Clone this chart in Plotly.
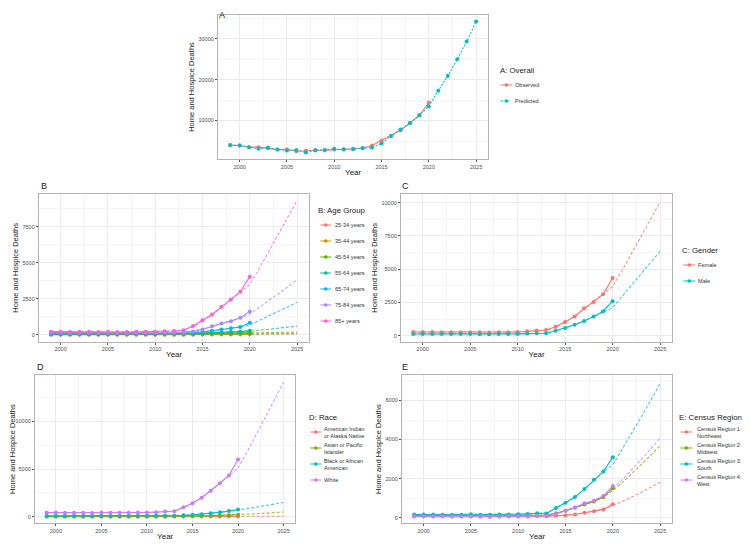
import plotly.graph_objects as go

years_obs = list(range(1999, 2021))
years_pred = list(range(1999, 2026))

# Panel A: overall
a_groups = ["Observed", "Predicted"]
a_obs = [3980, 3900, 3500, 3500, 3200, 2900, 3000, 2500, 2600, 2800, 2700, 2900, 3000, 3100,
         3300, 3900, 5100, 6200, 7600, 9300, 11300, 14400]
a_pred = [4000, 3900, 3500, 3100, 3400, 2900, 2700, 2800, 2200, 2700, 2800, 3100, 2900, 3000,
          3200, 3400, 4400, 6200, 7800, 9400, 11300, 13500, 17300, 20900, 25000, 29300, 34200]
a_colors = ["#F8766D", "#00BFC4"]

# Panel B: age group
b_groups = ["25-34 years", "35-44 years", "45-54 years", "55-64 years", "65-74 years", "75-84 years", "85+ years"]
b_obs = [
    [20, 18, 19, 18, 17, 18, 17, 16, 17, 18, 17, 18, 19, 20, 22, 25, 28, 30, 33, 35, 38, 45],
    [40, 38, 37, 36, 35, 34, 33, 32, 33, 32, 33, 34, 35, 37, 40, 45, 50, 55, 60, 65, 70, 80],
    [70, 68, 66, 65, 63, 62, 60, 60, 62, 63, 65, 66, 68, 70, 75, 85, 95, 105, 115, 125, 135, 160],
    [80, 78, 76, 75, 73, 72, 72, 70, 72, 73, 75, 77, 80, 85, 95, 110, 130, 155, 180, 205, 230, 300],
    [110, 105, 100, 98, 95, 92, 90, 88, 88, 90, 92, 95, 98, 105, 120, 160, 210, 290, 380, 460, 550, 840],
    [170, 165, 160, 158, 155, 150, 148, 145, 145, 148, 150, 152, 155, 160, 180, 250, 380, 600, 790, 960, 1190, 1635],
    [230, 220, 210, 230, 220, 210, 220, 210, 210, 220, 220, 230, 260, 280, 330, 630, 1020, 1420, 1950, 2460, 3000, 4040],
]
b_pred = [
    [20, 19, 18, 18, 17, 17, 17, 17, 17, 17, 17, 18, 19, 20, 22, 25, 27, 30, 32, 35, 38, 40, 42, 44, 46, 48, 50],
    [40, 38, 37, 36, 35, 34, 33, 33, 33, 33, 33, 34, 35, 37, 40, 45, 50, 55, 60, 65, 70, 75, 82, 89, 96, 103, 110],
    [70, 68, 66, 64, 63, 62, 61, 61, 62, 63, 65, 66, 68, 71, 76, 85, 95, 105, 115, 125, 135, 145, 156, 167, 178, 189, 200],
    [80, 78, 76, 74, 73, 72, 71, 71, 72, 73, 75, 77, 80, 86, 96, 110, 130, 155, 180, 205, 230, 260, 330, 400, 470, 540, 610],
    [108, 104, 100, 97, 94, 92, 90, 89, 89, 90, 92, 95, 100, 108, 125, 165, 220, 290, 370, 460, 560, 700, 1000, 1300, 1620, 1940, 2270],
    [165, 162, 160, 157, 154, 151, 148, 146, 146, 148, 150, 153, 157, 165, 190, 270, 400, 590, 780, 960, 1180, 1450, 1900, 2350, 2850, 3330, 3830],
    [220, 220, 220, 220, 215, 215, 215, 215, 215, 220, 225, 235, 255, 285, 340, 560, 950, 1400, 1900, 2450, 2950, 3500, 4600, 5800, 6950, 8150, 9330],
]
b_colors = ["#F8766D", "#C49A00", "#53B400", "#00C094", "#00B6EB", "#A58AFF", "#FB61D7"]

# Panel C: gender
c_groups = ["Female", "Male"]
c_obs = [
    [280, 275, 270, 255, 260, 255, 265, 260, 250, 262, 265, 275, 330, 400, 430, 680, 1030, 1435, 2065, 2540, 3120, 4330],
    [130, 128, 125, 122, 120, 120, 122, 118, 115, 125, 128, 135, 160, 180, 185, 380, 580, 830, 1110, 1435, 1840, 2590],
]
c_pred = [
    [275, 272, 268, 262, 260, 258, 258, 256, 255, 260, 265, 275, 300, 340, 400, 620, 1000, 1450, 2000, 2550, 3100, 3700, 4900, 6150, 7450, 8750, 10070],
    [128, 126, 124, 122, 121, 120, 120, 118, 117, 122, 127, 135, 150, 170, 200, 350, 560, 820, 1100, 1420, 1780, 2110, 2950, 3800, 4650, 5500, 6350],
]
c_colors = ["#F8766D", "#00BFC4"]

# Panel D: race
d_groups = ["American Indian<br>or Alaska Native", "Asian or Pacific<br>Islander", "Black or African<br>American", "White"]
d_obs = [
    [10, 10, 10, 10, 10, 10, 10, 10, 10, 10, 10, 10, 11, 12, 12, 14, 15, 17, 18, 20, 22, 28],
    [25, 25, 25, 25, 25, 25, 26, 26, 27, 28, 29, 30, 32, 35, 40, 50, 65, 85, 105, 130, 160, 210],
    [95, 95, 93, 92, 90, 90, 90, 88, 88, 90, 92, 95, 100, 105, 110, 150, 200, 260, 355, 460, 600, 745],
    [430, 430, 420, 420, 415, 400, 430, 410, 410, 425, 430, 440, 480, 540, 570, 990, 1420, 1985, 2730, 3510, 4330, 5990],
]
d_pred = [
    [10, 10, 10, 10, 10, 10, 10, 10, 10, 10, 10, 10, 11, 12, 13, 14, 15, 17, 18, 20, 22, 25, 30, 35, 40, 45, 50],
    [25, 25, 25, 25, 25, 25, 26, 26, 27, 28, 29, 30, 32, 35, 40, 50, 65, 85, 105, 130, 160, 190, 250, 310, 370, 430, 500],
    [95, 94, 93, 92, 91, 90, 89, 88, 88, 90, 92, 95, 100, 105, 115, 150, 200, 265, 350, 460, 580, 700, 850, 1000, 1170, 1330, 1490],
    [430, 428, 422, 418, 412, 408, 410, 410, 412, 420, 428, 440, 470, 520, 600, 950, 1400, 1980, 2720, 3500, 4300, 5100, 6800, 8600, 10400, 12250, 14100],
]
d_colors = ["#F8766D", "#7CAE00", "#00BFC4", "#C77CFF"]

# Panel E: census region
e_groups = ["Census Region 1:<br>Northeast", "Census Region 2:<br>Midwest", "Census Region 3:<br>South", "Census Region 4:<br>West"]
e_obs = [
    [70, 68, 66, 65, 64, 63, 65, 62, 60, 63, 65, 68, 70, 75, 80, 100, 120, 170, 260, 330, 430, 690],
    [120, 118, 115, 113, 112, 110, 115, 110, 108, 112, 115, 118, 122, 130, 140, 230, 360, 520, 680, 840, 1050, 1510],
    [170, 168, 165, 163, 160, 158, 180, 160, 155, 165, 170, 180, 200, 230, 220, 500, 770, 1060, 1470, 1940, 2365, 3100],
    [80, 78, 76, 75, 74, 72, 75, 72, 70, 72, 75, 78, 85, 95, 110, 200, 360, 530, 740, 870, 1110, 1630],
]
e_pred = [
    [70, 68, 66, 65, 64, 63, 63, 62, 61, 63, 65, 68, 70, 74, 80, 100, 125, 170, 250, 330, 440, 620, 830, 1060, 1300, 1560, 1820],
    [120, 118, 115, 113, 112, 110, 110, 109, 108, 112, 115, 118, 122, 130, 150, 230, 360, 510, 670, 840, 1050, 1400, 1800, 2250, 2700, 3190, 3690],
    [170, 168, 165, 163, 160, 158, 162, 158, 156, 165, 170, 180, 200, 225, 260, 480, 760, 1060, 1460, 1920, 2350, 2710, 3500, 4300, 5150, 6000, 6870],
    [80, 78, 76, 75, 74, 72, 72, 71, 70, 72, 75, 78, 85, 95, 120, 210, 350, 520, 720, 880, 1120, 1500, 1950, 2450, 2980, 3520, 4080],
]
e_colors = ["#F8766D", "#7CAE00", "#00BFC4", "#C77CFF"]

# page body has an 8px margin; lay out in window pixels
OFF = 8
FW, FH = 750 - OFF, 544 - OFF
FONT = "Liberation Sans, Arial, sans-serif"
DASH = "3px,2px"


def px_x(v):
    return (v - OFF) / FW


def px_y(v):
    return 1 - (v - OFF) / FH


fig = go.Figure()

# Panel A traces
fig.add_trace(go.Scatter(x=years_obs, y=a_obs, mode="lines+markers", name=a_groups[0],
                         line=dict(color=a_colors[0], width=1.1), marker=dict(size=4, color=a_colors[0]),
                         xaxis="x", yaxis="y", showlegend=False))
fig.add_trace(go.Scatter(x=years_pred, y=a_pred, mode="lines+markers", name=a_groups[1],
                         line=dict(color=a_colors[1], width=1.1, dash="2px,1.5px"),
                         marker=dict(size=4, color=a_colors[1]),
                         xaxis="x", yaxis="y", showlegend=False))


def add_group_panel(groups, obs, pred, colors, ax):
    for g, o, p, c in zip(groups, obs, pred, colors):
        fig.add_trace(go.Scatter(x=years_pred, y=p, mode="lines", name=g,
                                 showlegend=False, opacity=0.75,
                                 line=dict(color=c, width=1.1, dash=DASH),
                                 xaxis="x" + ax, yaxis="y" + ax))
        fig.add_trace(go.Scatter(x=years_obs, y=o, mode="lines+markers", name=g, showlegend=False,
                                 line=dict(color=c, width=1.1), marker=dict(size=4, color=c),
                                 xaxis="x" + ax, yaxis="y" + ax))


add_group_panel(b_groups, b_obs, b_pred, b_colors, "2")
add_group_panel(c_groups, c_obs, c_pred, c_colors, "3")
add_group_panel(d_groups, d_obs, d_pred, d_colors, "4")
add_group_panel(e_groups, e_obs, e_pred, e_colors, "5")

panels = {
    # name: (left, right, top, bottom, yrange, dtick)
    "": (215, 487, 15, 159, [600, 35800], 10000),
    "2": (35, 307, 194, 341.7, [-465, 9765], 2500),
    "3": (399, 672, 194, 341.7, [-450, 10650], 2500),
    "4": (31, 293, 375, 523.3, [-690, 14850], 5000),
    "5": (400, 672, 375, 523.3, [-280, 7300], 2000),
}

layout = dict(width=FW, height=FH, margin=dict(l=0, r=0, t=0, b=0),
              paper_bgcolor="white", plot_bgcolor="white", showlegend=False,
              font=dict(family=FONT, color="#222222"))

for k, (l, r, t, b, yr, dt) in panels.items():
    ax = dict(domain=[px_x(l), px_x(r)], range=[1997.7, 2026.3], dtick=5, tick0=2000,
              showgrid=True, gridcolor="#EBEBEB", gridwidth=1,
              minor=dict(dtick=2.5, tick0=2000, showgrid=True, gridcolor="#F5F5F5", gridwidth=0.6),
              showline=True, mirror=True, linecolor="#B3B3B3", linewidth=1,
              ticks="outside", ticklen=2, tickcolor="#555555",
              tickfont=dict(size=5.5, color="#4D4D4D"), zeroline=False,
              title=dict(text="Year", font=dict(size=8, color="#222222"), standoff=0),
              anchor="y" + k)
    ay = dict(domain=[px_y(b), px_y(t)], range=yr, dtick=dt, tick0=0, tickformat="d",
              showgrid=True, gridcolor="#EBEBEB", gridwidth=1,
              minor=dict(dtick=dt / 2, tick0=0, showgrid=True, gridcolor="#F5F5F5", gridwidth=0.6),
              showline=True, mirror=True, linecolor="#B3B3B3", linewidth=1,
              ticks="outside", ticklen=2, tickcolor="#555555",
              tickfont=dict(size=5.5, color="#4D4D4D"), zeroline=False,
              title=dict(text="Home and Hospice Deaths", font=dict(size=7.5, color="#222222"), standoff=2),
              anchor="x" + k)
    layout["xaxis" + k] = ax
    layout["yaxis" + k] = ay

# manual legends (ggplot style): title, key line with point, label
legends = [
    # title, title_x, title_y, key_x0, key_x1, text_x, item_ys, labels, colors, dashes
    ("A: Overall", 497, 70, 499, 511, 512, [85, 101], a_groups, a_colors, ["solid", "dot"]),
    ("B: Age Group", 314, 210, 318, 329, 331, [225, 241, 257, 273, 289, 305, 321], b_groups, b_colors, None),
    ("C: Gender", 680, 250, 683, 695, 696, [265, 281], c_groups, c_colors, None),
    ("D: Race", 305, 417, 308, 319, 320, [432, 448, 464, 480], d_groups, d_colors, None),
    ("E: Census Region", 677, 417, 680, 692, 695, [432, 448, 464, 480], e_groups, e_colors, None),
]

annots = []
shapes = []
for title, tx, ty, k0, k1, txt_x, ys, labels, cols, dashes in legends:
    annots.append(dict(text=title, x=px_x(tx), y=px_y(ty), xref="paper", yref="paper",
                       xanchor="left", yanchor="middle", showarrow=False,
                       font=dict(size=7.8, color="#222222")))
    for i, (yy, lab, col) in enumerate(zip(ys, labels, cols)):
        dash = dashes[i] if dashes else "solid"
        shapes.append(dict(type="line", xref="paper", yref="paper",
                           x0=px_x(k0), x1=px_x(k1), y0=px_y(yy), y1=px_y(yy),
                           line=dict(color=col, width=1, dash=dash)))
        cx = (k0 + k1) / 2
        shapes.append(dict(type="circle", xref="paper", yref="paper",
                           x0=px_x(cx - 1.8), x1=px_x(cx + 1.8), y0=px_y(yy + 1.8), y1=px_y(yy - 1.8),
                           line=dict(width=0), fillcolor=col))
        annots.append(dict(text=lab, x=px_x(txt_x), y=px_y(yy), xref="paper", yref="paper",
                           xanchor="left", yanchor="middle", align="left", showarrow=False,
                           font=dict(size=5.6, color="#333333")))

# panel tags; the "A" tag sits at the very top of the page
annots.append(dict(text="A", x=px_x(214), y=1, xref="paper", yref="paper",
                   xanchor="left", yanchor="top", showarrow=False,
                   font=dict(size=9, color="#222222")))
for txt, x, y in [("B", 35, 186), ("C", 398, 186), ("D", 31, 367), ("E", 398, 367)]:
    annots.append(dict(text=txt, x=px_x(x), y=px_y(y), xref="paper", yref="paper",
                       xanchor="left", yanchor="middle", showarrow=False,
                       font=dict(size=9, color="#222222")))

layout["annotations"] = annots
layout["shapes"] = shapes

fig.update_layout(**layout)
fig.write_html("out.html")
